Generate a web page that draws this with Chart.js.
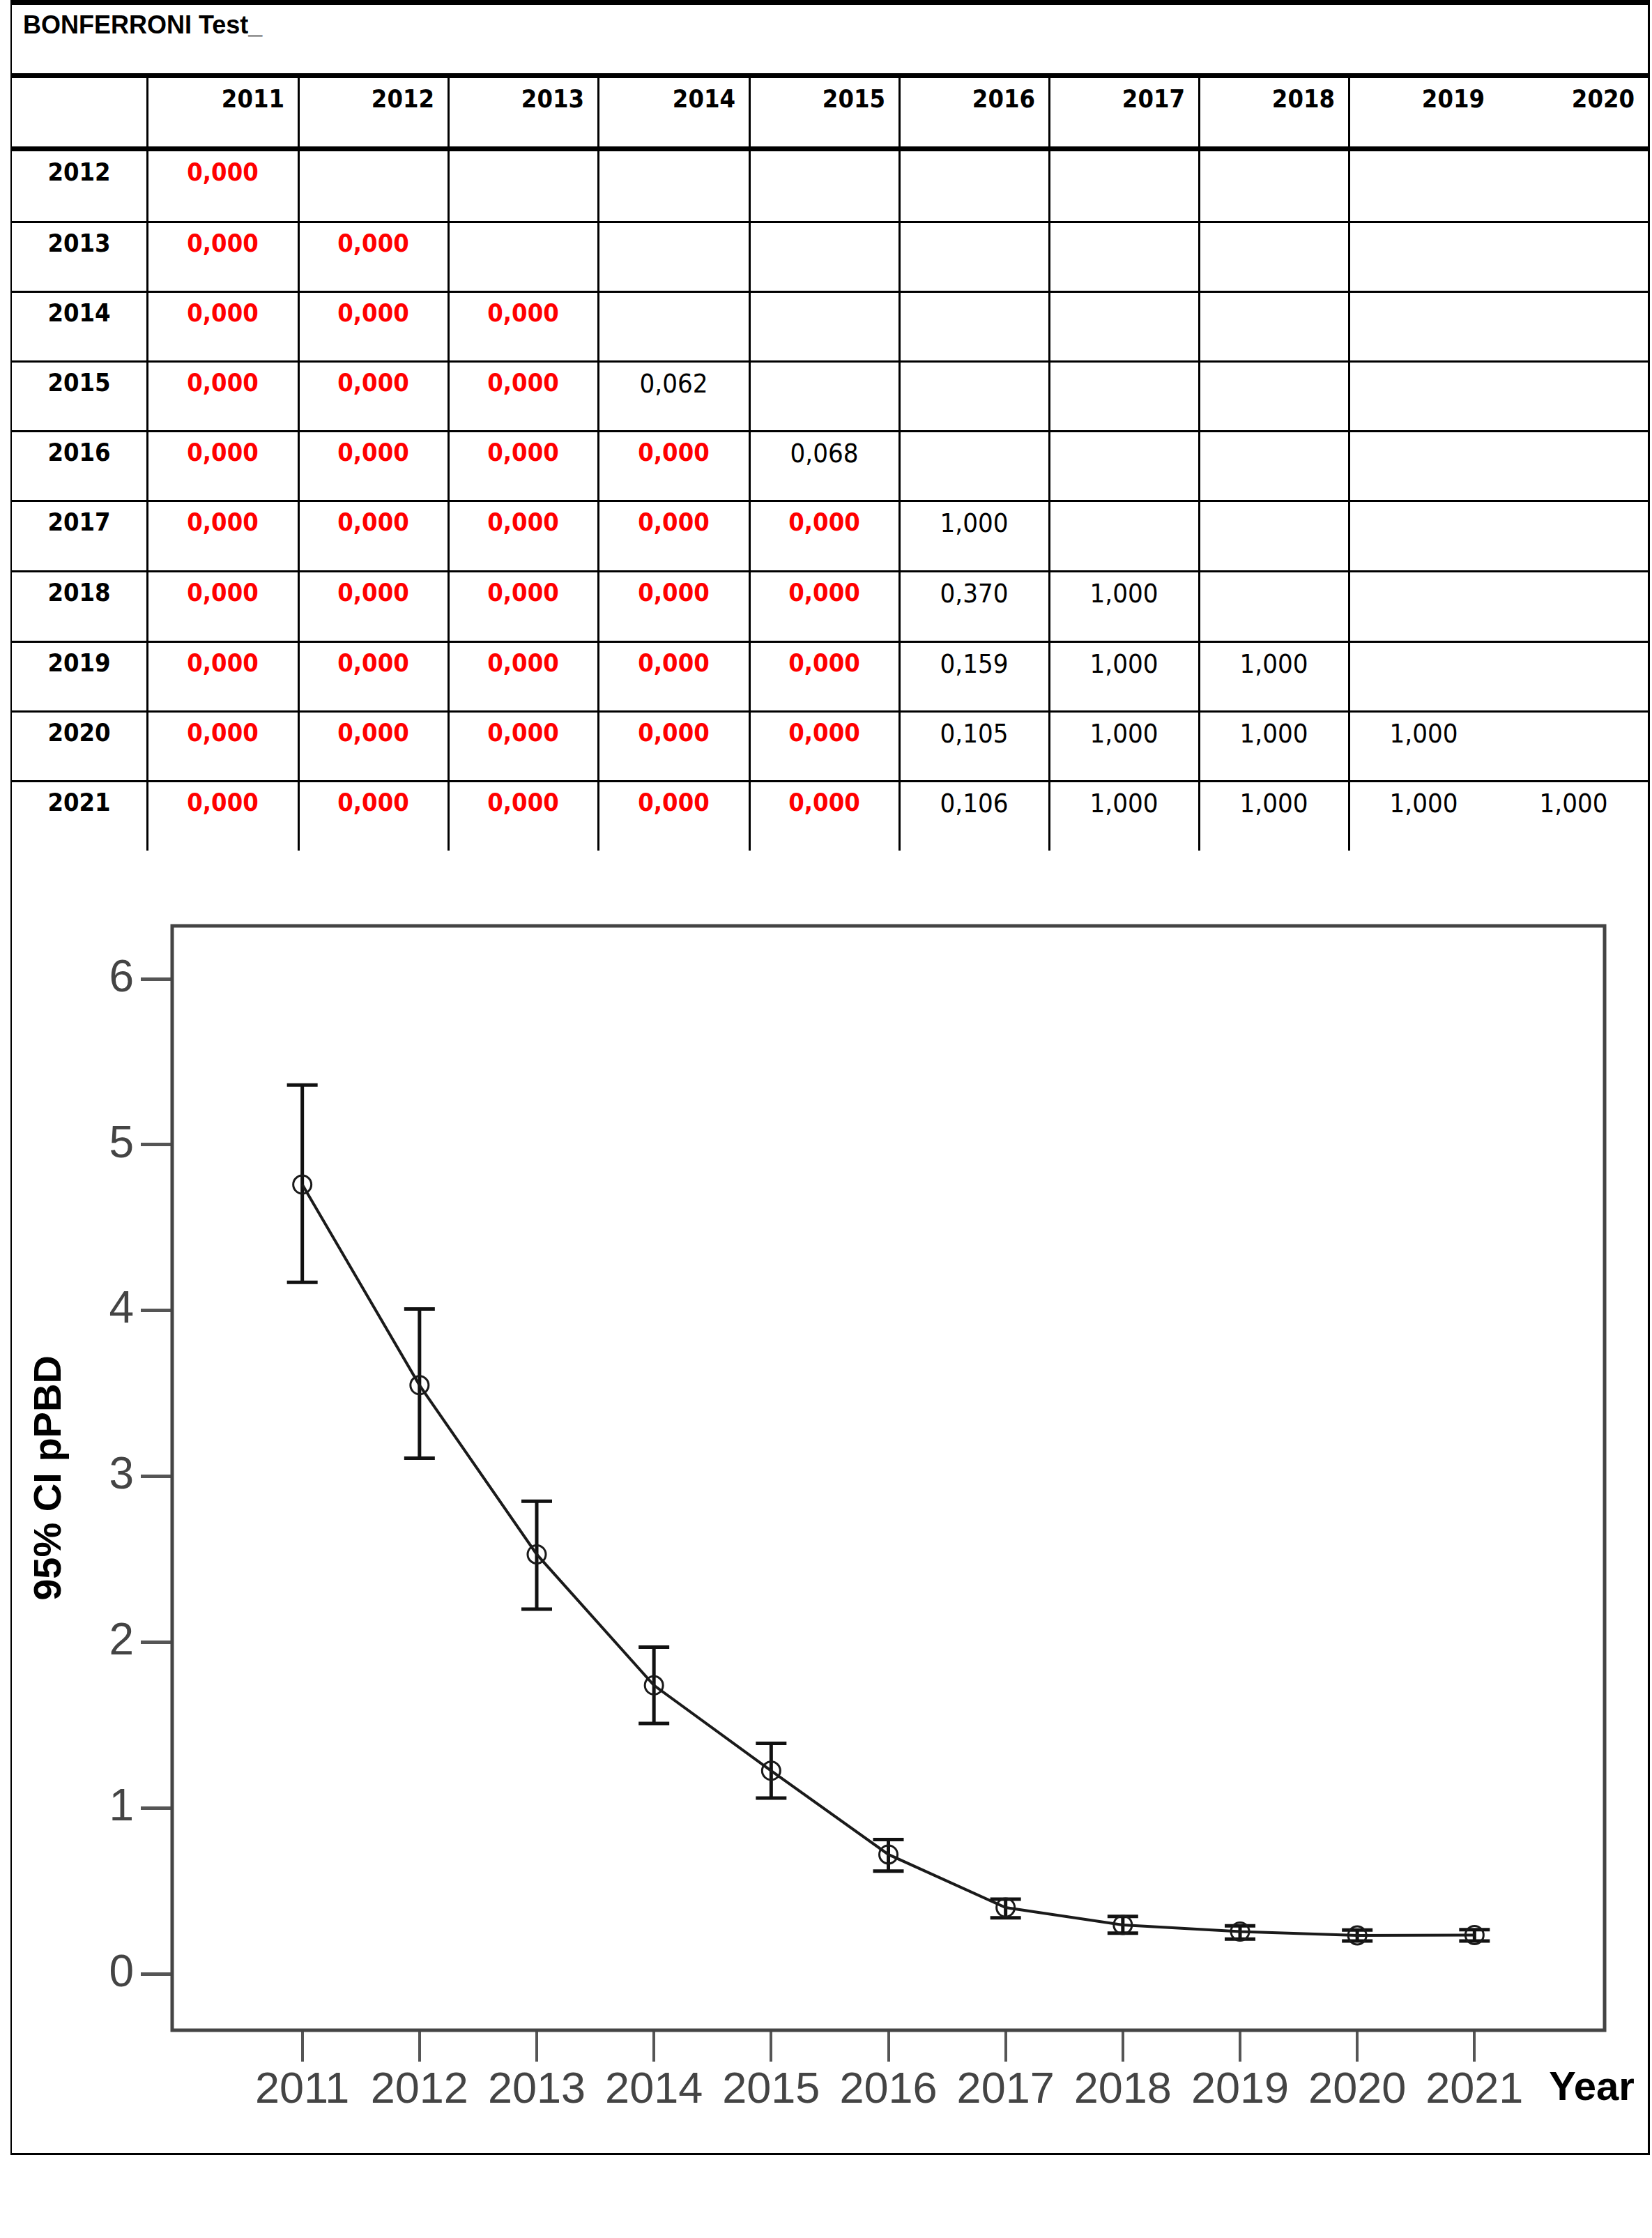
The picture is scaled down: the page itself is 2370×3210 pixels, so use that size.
<!DOCTYPE html>
<html>
<head>
<meta charset="utf-8">
<script src="https://cdn.jsdelivr.net/npm/chart.js@4.4.1/dist/chart.umd.min.js"></script>
<style>
html,body{margin:0;padding:0;background:#fff;}
body{width:2370px;height:3210px;position:relative;overflow:hidden;}
.ln{position:absolute;background:#000;}
.tx{position:absolute;white-space:nowrap;line-height:1;color:#000;}
.cond{font-family:"DejaVu Sans Condensed","DejaVu Sans",sans-serif;font-stretch:condensed;}
#chartWrap{position:absolute;left:0;top:1222px;width:2370px;height:1866px;}
</style>
</head>
<body>
<div id="tbl"></div>
<div id="chartWrap"><canvas id="c" width="2370" height="1866"></canvas></div>
<script>
// ---------------- DATA ----------------
const tableTitle = 'BONFERRONI Test_';
const colYears = ['2011','2012','2013','2014','2015','2016','2017','2018','2019','2020'];
const rowYears = ['2012','2013','2014','2015','2016','2017','2018','2019','2020','2021'];
const p2012 = ['0,000'];
const p2013 = ['0,000','0,000'];
const p2014 = ['0,000','0,000','0,000'];
const p2015 = ['0,000','0,000','0,000','0,062'];
const p2016 = ['0,000','0,000','0,000','0,000','0,068'];
const p2017 = ['0,000','0,000','0,000','0,000','0,000','1,000'];
const p2018 = ['0,000','0,000','0,000','0,000','0,000','0,370','1,000'];
const p2019 = ['0,000','0,000','0,000','0,000','0,000','0,159','1,000','1,000'];
const p2020 = ['0,000','0,000','0,000','0,000','0,000','0,105','1,000','1,000','1,000'];
const p2021 = ['0,000','0,000','0,000','0,000','0,000','0,106','1,000','1,000','1,000','1,000'];
const pRows = [p2012,p2013,p2014,p2015,p2016,p2017,p2018,p2019,p2020,p2021];

const years    = [2011,2012,2013,2014,2015,2016,2017,2018,2019,2020,2021];
const meanPPBD = [4.76,3.55,2.53,1.74,1.225,0.72,0.40,0.295,0.255,0.232,0.234];
const ciLower  = [4.17,3.11,2.20,1.51,1.06,0.62,0.338,0.245,0.210,0.198,0.198];
const ciUpper  = [5.36,4.01,2.85,1.97,1.39,0.81,0.450,0.346,0.290,0.264,0.266];
const yTickValues = [0,1,2,3,4,5,6];
const xTickLabels = ['2011','2012','2013','2014','2015','2016','2017','2018','2019','2020','2021','Year'];
const yAxisTitle = '95% CI pPBD';

// ---------------- TABLE LAYOUT ----------------
const tbl = document.getElementById('tbl');
function line(l,t,w,h){const d=document.createElement('div');d.className='ln';d.style.left=l+'px';d.style.top=t+'px';d.style.width=w+'px';d.style.height=h+'px';tbl.appendChild(d);}
function text(str,l,t,w,align,font,size,weight,color){
  const d=document.createElement('div');d.className='tx'+(font==='cond'?' cond':'');
  if(font!=='cond'){d.style.fontFamily='"Liberation Sans",Arial,sans-serif';}
  d.style.left=l+'px';d.style.top=t+'px';if(w!=null){d.style.width=w+'px';}
  d.style.textAlign=align;d.style.fontSize=size+'px';d.style.fontWeight=weight;d.style.color=color;
  d.textContent=str;tbl.appendChild(d);
}
const colEdges=[16,211,428,643,858,1075,1290,1505,1720,1935,2150,2365];
const rowLineCenters=[318,418,518,618,718,819,920,1020,1120];
const tableBottom=1220;
// frame
line(15,0,2,3091); line(2364,0,3,3091); line(15,3088,2352,3);
// thick rules
line(16,0,2349,7); line(16,105,2349,7); line(16,210,2349,7);
rowLineCenters.forEach(c=>line(16,c-1.5,2349,3));
// vertical rules (none between the last two columns)
for(let i=1;i<colEdges.length-2;i++){ line(colEdges[i]-1,112,3,tableBottom-112); }
// title
text(tableTitle,33,18,null,'left','lib',36,'bold','#000');
// header
colYears.forEach((y,j)=>{ const l=colEdges[j+1], r=colEdges[j+2]; text(y,l,124,r-l-20,'right','cond',36,'bold','#000'); });
// rows
rowYears.forEach((ry,i)=>{
  const rowTop = i===0 ? 217 : rowLineCenters[i-1]+1.5;
  const capTop = rowTop+16;
  text(ry,colEdges[0],capTop-4.2,colEdges[1]-colEdges[0],'center','cond',36,'bold','#000');
  pRows[i].forEach((v,j)=>{
    const l=colEdges[j+1], r=colEdges[j+2];
    const sig = parseFloat(v.replace(',','.')) < 0.05;
    if(sig) text(v,l,capTop-4.2,r-l,'center','cond',36,'bold','#ff0000');
    else text(v,l,capTop-4.4,r-l,'center','cond',38,'normal','#000');
  });
});

// ---------------- CHART ----------------
const sansFam = "'Liberation Sans',Arial,sans-serif";
const errData=[];
years.forEach((yr,i)=>{ errData.push({x:yr,y:ciLower[i]},{x:yr,y:ciUpper[i]},{x:yr,y:null}); });
const meanData = years.map((yr,i)=>({x:yr,y:meanPPBD[i]}));
const xTickValues = xTickLabels.map((_,i)=>years[0]+i);
const lastX = xTickLabels.length-1;

const plotFrame={id:'plotFrame',beforeDatasetsDraw(chart){const {ctx,chartArea:a}=chart;ctx.save();ctx.strokeStyle='#444';ctx.lineWidth=5;ctx.strokeRect(a.left,a.top,a.right-a.left,a.bottom-a.top);ctx.restore();}};

new Chart(document.getElementById('c'),{
  type:'line',
  data:{datasets:[
    {label:'Mean pPBD',data:meanData,borderColor:'#1a1a1a',borderWidth:4,tension:0,pointRadius:13,pointHoverRadius:13,pointBorderWidth:3,pointBorderColor:'#1a1a1a',pointBackgroundColor:'rgba(255,255,255,0)',fill:false,order:0},
    {label:'95% CI',data:errData,borderColor:'#111',borderWidth:5,spanGaps:false,pointStyle:'line',pointRadius:22,pointHoverRadius:22,pointBorderWidth:5,pointBorderColor:'#111',fill:false,order:1}
  ]},
  options:{
    responsive:false,animation:false,devicePixelRatio:1,events:[],
    layout:{padding:{left:0,right:68,top:106,bottom:0}},
    plugins:{legend:{display:false},tooltip:{enabled:false}},
    scales:{
      x:{type:'linear',min:years[0]-1.11,max:years[years.length-1]+1.11,
        afterBuildTicks:s=>{s.ticks=xTickValues.map(v=>({value:v}));},
        afterFit:s=>{s.height=176;},
        border:{display:false},
        grid:{drawOnChartArea:false,drawTicks:true,tickLength:45,lineWidth:4,tickWidth:4,
          tickColor:c=>(c.index===lastX?'rgba(0,0,0,0)':'#555')},
        ticks:{autoSkip:false,maxRotation:0,minRotation:0,padding:4,
          callback:(v,i)=>xTickLabels[i],
          font:c=>(c.index===lastX?{family:sansFam,size:58,weight:'bold'}:{family:sansFam,size:63,weight:'normal'}),
          color:c=>(c.index===lastX?'#000':'#444')}
      },
      y:{type:'linear',min:-0.34,max:6.32,
        afterBuildTicks:s=>{s.ticks=yTickValues.map(v=>({value:v}));},
        afterFit:s=>{s.width=247;},
        border:{display:false},
        grid:{drawOnChartArea:false,drawTicks:true,tickLength:45,lineWidth:5,tickWidth:5,tickColor:'#555'},
        ticks:{padding:10,color:'#444',font:{family:sansFam,size:64},callback:v=>String(v)},
        title:{display:true,text:yAxisTitle,color:'#000',font:{family:sansFam,size:56,weight:'bold'},padding:{top:38,bottom:0}}
      }
    }
  },
  plugins:[plotFrame]
});
</script>
</body>
</html>
